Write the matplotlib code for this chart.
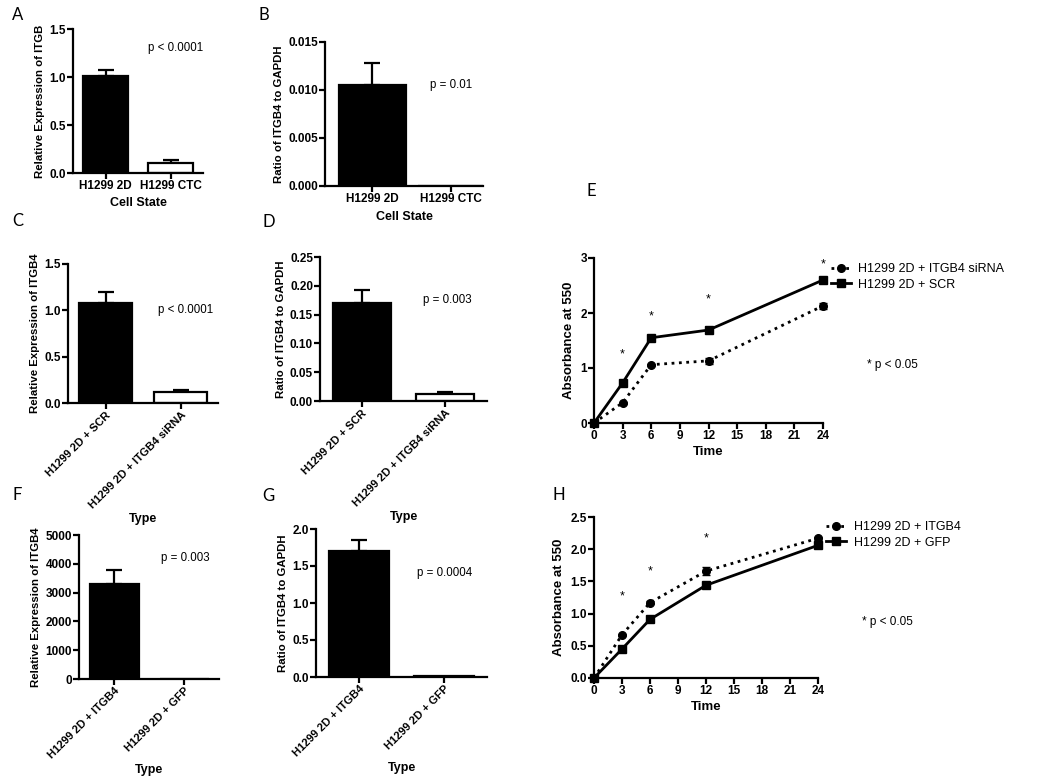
import matplotlib
matplotlib.use('Agg')
import matplotlib.pyplot as plt

plt.rcParams['font.family'] = ['Liberation Sans', 'DejaVu Sans']

W, H = 1050, 784

# ---- data ----
a_labels = ['H1299 2D', 'H1299 CTC']
a_means = [1.01, 0.10]
a_errs = [0.06, 0.04]

b_labels = ['H1299 2D', 'H1299 CTC']
b_means = [0.0105, 0.0]
b_errs = [0.0023, 0.0]

c_labels = ['H1299 2D + SCR', 'H1299 2D + ITGB4 siRNA']
c_means = [1.08, 0.12]
c_errs = [0.12, 0.015]

d_labels = ['H1299 2D + SCR', 'H1299 2D + ITGB4 siRNA']
d_means = [0.170, 0.013]
d_errs = [0.022, 0.002]

f_labels = ['H1299 2D + ITGB4', 'H1299 2D + GFP']
f_means = [3300, 0]
f_errs = [500, 0]

g_labels = ['H1299 2D + ITGB4', 'H1299 2D + GFP']
g_means = [1.70, 0.02]
g_errs = [0.15, 0.0]

time = [0, 3, 6, 12, 24]
e_sirna = [0, 0.37, 1.06, 1.13, 2.13]
e_sirna_err = [0, 0.02, 0.02, 0.06, 0.05]
e_scr = [0, 0.73, 1.55, 1.69, 2.60]
e_scr_err = [0, 0.03, 0.03, 0.05, 0.03]
e_star_x = [3, 6, 12, 24]
e_star_y = [1.25, 1.93, 2.24, 2.89]

h_itgb4 = [0, 0.67, 1.17, 1.66, 2.17]
h_itgb4_err = [0, 0.02, 0.02, 0.06, 0.02]
h_gfp = [0, 0.45, 0.91, 1.44, 2.06]
h_gfp_err = [0, 0.01, 0.02, 0.02, 0.03]
h_star_x = [3, 6, 12]
h_star_y = [1.27, 1.66, 2.16]

fig = plt.figure(figsize=(W / 100, H / 100), dpi=100)


def box(x0, y0, x1, y1):
    return fig.add_axes([x0 / W, 1 - y1 / H, (x1 - x0) / W, (y1 - y0) / H])


def style(ax):
    for s in ['top', 'right']:
        ax.spines[s].set_visible(False)
    for s in ['left', 'bottom']:
        ax.spines[s].set_linewidth(1.6)
    ax.tick_params(width=1.6, length=4, labelsize=8.5, pad=1)
    for t in ax.get_xticklabels() + ax.get_yticklabels():
        t.set_fontweight('bold')


def bar_panel(ax, labels, means, errs, fills, yticks, ytl, ylabel, xlabel,
              width=0.7, xlim=(-0.5, 1.5), rotate=False):
    xs = list(range(len(labels)))
    ax.bar(xs, means, width=width, color=fills, edgecolor='black', linewidth=1.6, zorder=2)
    for x, m, e in zip(xs, means, errs):
        if e > 0:
            ax.errorbar(x, m, yerr=[[0], [e]], fmt='none', ecolor='black',
                        elinewidth=1.6, capsize=6, capthick=1.6, zorder=1)
    ax.set_xlim(*xlim)
    ax.set_ylim(yticks[0], yticks[-1])
    ax.set_yticks(yticks)
    ax.set_yticklabels(ytl)
    ax.set_xticks(xs)
    if rotate:
        ax.set_xticklabels(labels, rotation=45, ha='right', rotation_mode='anchor')
    else:
        ax.set_xticklabels(labels)
    ax.set_ylabel(ylabel, fontsize=8.2, fontweight='bold', labelpad=3)
    ax.set_xlabel(xlabel, fontsize=9, fontweight='bold', labelpad=4 if not rotate else 2)
    style(ax)
    if rotate:
        ax.tick_params(axis='x', labelsize=8)


def line_panel(ax, y1, e1, y2, e2, n1, n2, yticks, ytl, sx, sy, leg_xy):
    ax.errorbar(time, y1, yerr=e1, color='black', linestyle=':', linewidth=2,
                marker='o', markersize=5.5, capsize=3, elinewidth=1.5, label=n1,
                clip_on=False, zorder=3)
    ax.errorbar(time, y2, yerr=e2, color='black', linestyle='-', linewidth=2,
                marker='s', markersize=5.5, capsize=3, elinewidth=1.5, label=n2,
                clip_on=False, zorder=3)
    for x, y in zip(sx, sy):
        ax.text(x, y, '*', ha='center', va='center', fontsize=9)
    ax.set_xlim(0, 24)
    ax.set_xticks(range(0, 25, 3))
    ax.set_ylim(yticks[0], yticks[-1])
    ax.set_yticks(yticks)
    ax.set_yticklabels(ytl)
    ax.set_ylabel('Absorbance at 550', fontsize=9.5, fontweight='bold', labelpad=4)
    ax.set_xlabel('Time', fontsize=9.5, fontweight='bold', labelpad=3)
    style(ax)
    h, l = ax.get_legend_handles_labels()
    h = [hh[0] for hh in h]
    fig.legend(h, l, loc='upper left', bbox_to_anchor=(leg_xy[0] / W, 1 - leg_xy[1] / H),
               frameon=False, fontsize=9, handlelength=1.6, handletextpad=0.6,
               labelspacing=0.3, borderaxespad=0, borderpad=0)


def letter(x, y, s):
    fig.text(x / W, 1 - y / H, s, fontsize=12, family=['Lato', 'DejaVu Sans'],
             ha='left', va='center')


# ---- A ----
ax = box(73, 29, 203, 173)
bar_panel(ax, a_labels, a_means, a_errs, ['black', 'white'], [0, 0.5, 1.0, 1.5],
          ['0.0', '0.5', '1.0', '1.5'], 'Relative Expression of ITGB', 'Cell State')
fig.text(148 / W, 1 - 48 / H, 'p < 0.0001', fontsize=8.3, va='center')

# ---- B ----
ax = box(325, 42, 483, 186)
bar_panel(ax, b_labels, b_means, b_errs, ['black', 'white'], [0, 0.005, 0.010, 0.015],
          ['0.000', '0.005', '0.010', '0.015'], 'Ratio of ITGB4 to GAPDH', 'Cell State',
          width=0.84, xlim=(-0.6, 1.4))
fig.text(430 / W, 1 - 85 / H, 'p = 0.01', fontsize=8.3, va='center')

# ---- C ----
ax = box(68, 264, 218, 403)
bar_panel(ax, c_labels, c_means, c_errs, ['black', 'white'], [0, 0.5, 1.0, 1.5],
          ['0.0', '0.5', '1.0', '1.5'], 'Relative Expression of ITGB4', 'Type', rotate=True)
fig.text(158 / W, 1 - 310 / H, 'p < 0.0001', fontsize=8.3, va='center')

# ---- D ----
ax = box(320, 257, 487, 401)
bar_panel(ax, d_labels, d_means, d_errs, ['black', 'white'],
          [0, 0.05, 0.10, 0.15, 0.20, 0.25],
          ['0.00', '0.05', '0.10', '0.15', '0.20', '0.25'],
          'Ratio of ITGB4 to GAPDH', 'Type', rotate=True)
fig.text(423 / W, 1 - 300 / H, 'p = 0.003', fontsize=8.3, va='center')

# ---- E ----
ax = box(594, 258, 823, 423)
line_panel(ax, e_sirna, e_sirna_err, e_scr, e_scr_err,
           'H1299 2D + ITGB4 siRNA', 'H1299 2D + SCR',
           [0, 1, 2, 3], ['0', '1', '2', '3'], e_star_x, e_star_y, (831, 263))
fig.text(867 / W, 1 - 365 / H, '* p < 0.05', fontsize=8.5, va='center')

# ---- F ----
ax = box(79, 535, 219, 679)
bar_panel(ax, f_labels, f_means, f_errs, ['black', 'white'],
          [0, 1000, 2000, 3000, 4000, 5000],
          ['0', '1000', '2000', '3000', '4000', '5000'],
          'Relative Expression of ITGB4', 'Type', rotate=True)
fig.text(161 / W, 1 - 558 / H, 'p = 0.003', fontsize=8.3, va='center')

# ---- G ----
ax = box(316, 529, 487, 677)
bar_panel(ax, g_labels, g_means, g_errs, ['black', 'white'],
          [0, 0.5, 1.0, 1.5, 2.0], ['0.0', '0.5', '1.0', '1.5', '2.0'],
          'Ratio of ITGB4 to GAPDH', 'Type', rotate=True)
fig.text(417 / W, 1 - 573 / H, 'p = 0.0004', fontsize=8.3, va='center')

# ---- H ----
ax = box(594, 517, 818, 678)
line_panel(ax, h_itgb4, h_itgb4_err, h_gfp, h_gfp_err,
           'H1299 2D + ITGB4', 'H1299 2D + GFP',
           [0, 0.5, 1.0, 1.5, 2.0, 2.5], ['0.0', '0.5', '1.0', '1.5', '2.0', '2.5'],
           h_star_x, h_star_y, (826, 521))
fig.text(862 / W, 1 - 622 / H, '* p < 0.05', fontsize=8.5, va='center')

# panel letters
letter(12, 15, 'A')
letter(259, 15, 'B')
letter(12, 221, 'C')
letter(262, 222, 'D')
letter(586, 191, 'E')
letter(12, 495, 'F')
letter(262, 496, 'G')
letter(553, 495, 'H')

fig.savefig('out.png', dpi=100)
